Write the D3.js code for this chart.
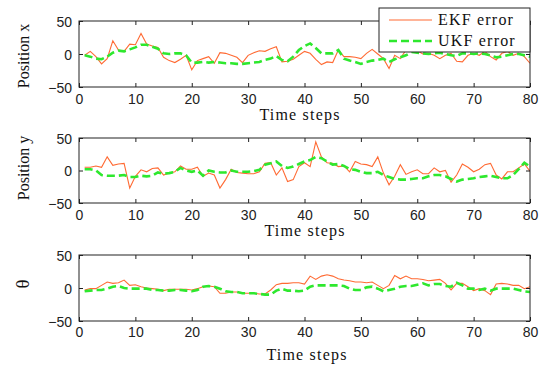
<!DOCTYPE html>
<html>
<head>
<meta charset="utf-8">
<script src="https://cdn.jsdelivr.net/npm/d3@7"></script>
<style>
  html, body { margin: 0; padding: 0; background: #fff; }
  svg { display: block; }
</style>
</head>
<body>
<svg id="chart" width="543" height="366"></svg>
<script>
// Time steps 1..80
const steps = d3.range(1, 81);

// Position x error
const ekfX = [-2,4,-4,-15,-7,20,6,4,15,14,31,15,12,10,-5,-10,-13,-8,-2,-24,
  -10,-7,-4,-14,2,1,-2,-5,-13,-2,2,5,4,8,11,-12,-11,-8,-2,4,
  1,-8,-16,-12,-13,6,-4,-4,-5,-7,1,7,0,-7,-22,-2,-7,6,8,5,
  0,1,-2,-7,-2,1,-11,-12,-2,1,-2,4,-4,-9,1,4,-2,1,-4,-14];
const ukfX = [-2,-4,-7,-8,-4,2,5,4,7,10,14,14,11,8,1,0,1,1,-2,-13,
  -13,-12,-13,-12,-13,-14,-14,-15,-15,-14,-13,-12,-9,-7,-3,-9,-11,-4,6,12,
  16,9,1,1,1,6,-7,-10,-12,-15,-12,-10,-9,-7,-12,-8,-5,-2,3,2,
  1,0,1,2,0,-2,-3,1,1,0,1,0,-2,-5,-4,-2,0,0,-2,-4];

// Position y error
const ekfY = [5,5,7,5,21,8,10,11,-27,-9,1,-2,3,4,-7,-4,-2,7,2,2,
  5,-9,-4,-7,-27,-14,2,-3,-4,-5,-5,-2,11,12,-7,4,-17,-14,6,12,
  6,44,21,12,11,6,7,-2,14,10,9,6,21,-4,-22,-9,9,-6,-2,1,
  -5,-5,4,-2,0,-18,-7,10,5,-2,2,9,11,-7,-13,-2,-2,4,10,-1];
const ukfY = [2,2,0,-7,-8,-8,-8,-7,-10,-10,-8,-9,-8,-3,-5,-4,-2,4,0,-2,
  0,-8,0,-2,-3,-3,0,-2,-2,-2,-1,1,9,11,14,7,4,6,10,14,
  16,21,19,14,9,10,7,2,1,-2,-4,-4,-2,-7,-10,-13,-14,-14,-13,-12,
  -12,-9,-7,-7,-9,-13,-17,-14,-13,-12,-10,-9,-8,-10,-12,-12,-7,2,12,6];

// Heading error
const ekfT = [-3,-1,-1,4,9,7,8,12,4,5,2,0,-1,-2,-4,-2,-2,-2,-2,-3,
  -1,2,3,2,-8,-8,-6,-6,-8,-8,-8,-9,-9,-3,5,7,7,8,8,6,
  18,13,18,20,18,14,12,11,9,9,8,9,4,-1,4,19,14,18,14,14,
  13,11,12,13,7,-3,7,7,2,-4,-1,-4,-10,6,7,6,4,4,-1,2];
const ukfT = [-5,-4,-3,-3,-1,2,3,0,-1,-1,-1,-1,-3,-3,-4,-4,-3,-3,-4,-5,
  -3,2,3,2,-1,-5,-6,-6,-8,-8,-8,-9,-10,-10,-4,-1,-4,-4,-5,-4,
  2,4,4,4,4,4,3,-1,-3,-3,1,2,-1,-5,-3,-1,2,3,3,5,
  7,4,6,6,3,2,8,4,-1,-1,-3,-1,-4,-1,-1,-1,-1,-3,-5,-6];

const xTicks = [0, 10, 20, 30, 40, 50, 60, 70, 80];
const yTicks = [-50, 0, 50];
const seriesNames = ["EKF error", "UKF error"];

const colEKF = "#ff6a33";
const colUKF = "#2ee82e";
const serif = "'Liberation Serif', 'Times New Roman', serif";
const sans = "'Liberation Sans', Arial, sans-serif";

const svg = d3.select("#chart");
const left = 79, right = 530;

const panels = [
  { top: 21, bottom: 87, ekf: ekfX, ukf: ukfX, label: "Position x", labelY: 56, labelSize: 16,
    tickBase: 104, xlabBase: 120, xlabX: 300 },
  { top: 138, bottom: 203, ekf: ekfY, ukf: ukfY, label: "Position y", labelY: 168, labelSize: 16,
    tickBase: 220, xlabBase: 236, xlabX: 305 },
  { top: 255, bottom: 321, ekf: ekfT, ukf: ukfT, label: "\u03b8", labelY: 284, labelSize: 19,
    tickBase: 337, xlabBase: 360, xlabX: 307 }
];

const x = d3.scaleLinear().domain([0, 80]).range([left, right]);

panels.forEach(p => {
  const y = d3.scaleLinear().domain([-50, 50]).range([p.bottom, p.top]);
  const g = svg.append("g");

  const clipId = "clip" + p.top;
  svg.append("clipPath").attr("id", clipId)
    .append("rect").attr("x", left).attr("y", p.top)
    .attr("width", right - left).attr("height", p.bottom - p.top);

  const line = d3.line().x((d, i) => x(steps[i])).y(d => y(d));

  const plot = g.append("g").attr("clip-path", `url(#${clipId})`);
  plot.append("path").datum(p.ekf)
    .attr("d", line).attr("fill", "none")
    .attr("stroke", colEKF).attr("stroke-width", 1.1);
  plot.append("path").datum(p.ukf)
    .attr("d", line).attr("fill", "none")
    .attr("stroke", colUKF).attr("stroke-width", 2.6)
    .attr("stroke-dasharray", "8,4");

  // inward ticks on all four sides
  const axB = g.append("g").attr("transform", `translate(0,${p.bottom})`)
    .call(d3.axisBottom(x).tickValues(xTicks).tickSizeInner(-4).tickSizeOuter(0).tickPadding(0));
  const axT = g.append("g").attr("transform", `translate(0,${p.top})`)
    .call(d3.axisTop(x).tickValues(xTicks).tickSizeInner(-4).tickSizeOuter(0).tickFormat(""));
  const axL = g.append("g").attr("transform", `translate(${left},0)`)
    .call(d3.axisLeft(y).tickValues(yTicks).tickSizeInner(-4).tickSizeOuter(0).tickPadding(0));
  const axR = g.append("g").attr("transform", `translate(${right},0)`)
    .call(d3.axisRight(y).tickValues(yTicks).tickSizeInner(-4).tickSizeOuter(0).tickFormat(""));

  [axB, axT, axL, axR].forEach(a => {
    a.select(".domain").remove();
    a.selectAll(".tick line").attr("stroke", "#222");
  });

  axB.selectAll(".tick text")
    .attr("y", p.tickBase - p.bottom).attr("dy", null)
    .attr("font-family", sans).attr("font-size", 14).attr("fill", "#222");
  axL.selectAll(".tick text")
    .attr("x", -7).attr("dy", "0.36em")
    .attr("font-family", sans).attr("font-size", 14).attr("fill", "#222");

  g.append("rect").attr("x", left).attr("y", p.top)
    .attr("width", right - left).attr("height", p.bottom - p.top)
    .attr("fill", "none").attr("stroke", "#222").attr("stroke-width", 1);

  g.append("text")
    .attr("transform", `translate(29,${p.labelY}) rotate(-90)`)
    .attr("text-anchor", "middle")
    .attr("font-family", serif).attr("font-size", p.labelSize).attr("fill", "#111")
    .text(p.label);

  g.append("text")
    .attr("x", p.xlabX).attr("y", p.xlabBase)
    .attr("text-anchor", "middle")
    .attr("font-family", serif).attr("font-size", 16)
    .attr("letter-spacing", "1.2px").attr("fill", "#111")
    .text("Time steps");
});

// legend
const lg = svg.append("g");
lg.append("rect").attr("x", 379).attr("y", 8).attr("width", 151).attr("height", 44)
  .attr("fill", "#fff").attr("stroke", "#222").attr("stroke-width", 1);
const legendRows = [
  { name: seriesNames[0], color: colEKF, w: 1.1, dash: null, y: 20 },
  { name: seriesNames[1], color: colUKF, w: 2.6, dash: "8,4", y: 41 }
];
legendRows.forEach(r => {
  lg.append("line").attr("x1", 389).attr("x2", 432).attr("y1", r.y).attr("y2", r.y)
    .attr("stroke", r.color).attr("stroke-width", r.w)
    .attr("stroke-dasharray", r.dash);
  lg.append("text").attr("x", 438).attr("y", r.y + 5)
    .attr("font-family", serif).attr("font-size", 16)
    .attr("letter-spacing", "1.2px").attr("fill", "#111")
    .text(r.name);
});
</script>
</body>
</html>
